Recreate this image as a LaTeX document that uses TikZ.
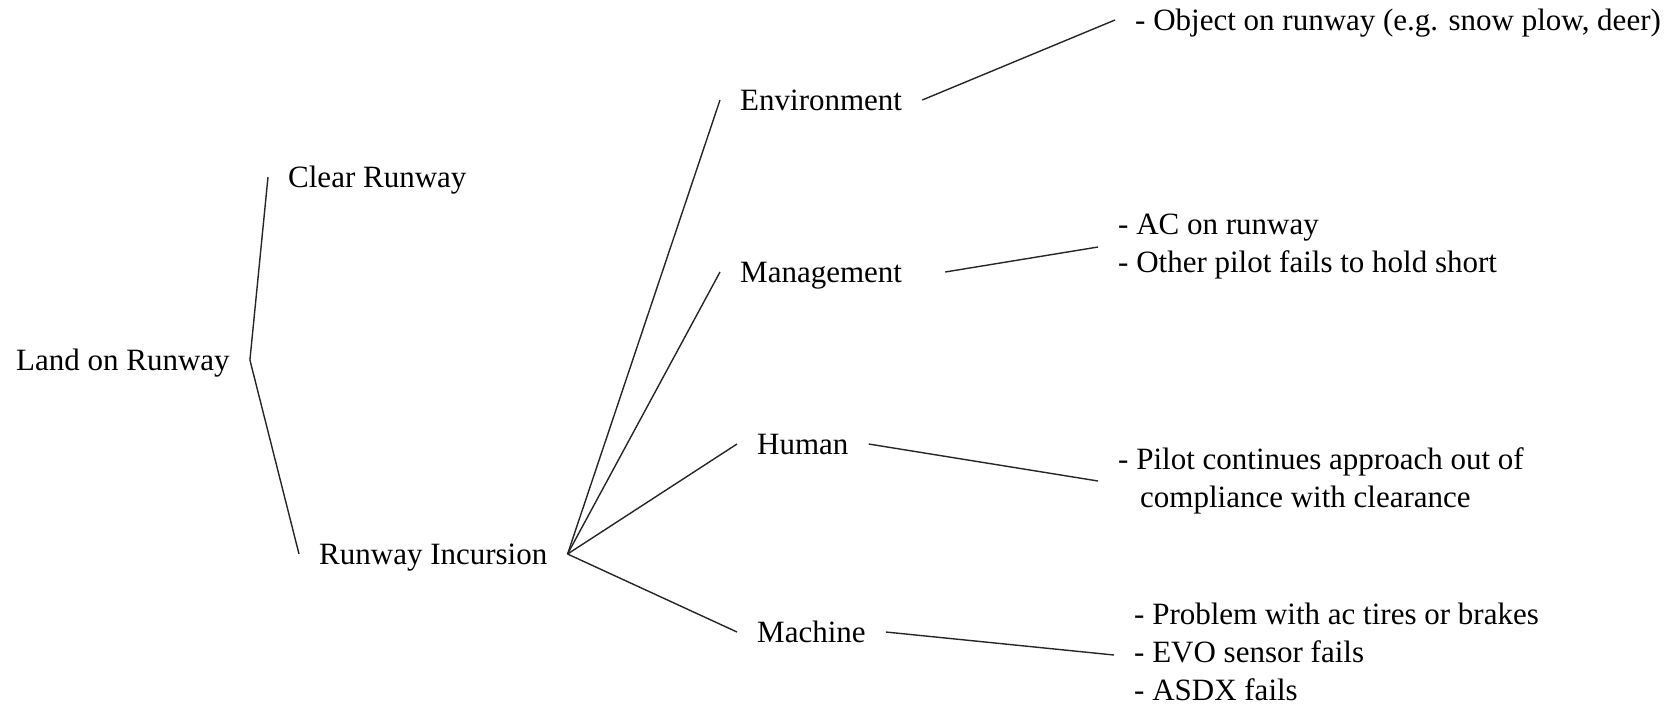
\documentclass[tikz,border=0pt]{standalone}
\usepackage{fontspec}
\setmainfont{Liberation Serif}
\newcommand{\rs}{\rule[-7pt]{0pt}{34.5pt}}
\tikzset{
    lbl/.style={anchor=west, inner xsep=20pt, inner ysep=0pt, font=\fontsize{31}{38}\selectfont,
        execute at begin node=\rs, execute at end node=\rs},
    item/.style={lbl, align=left},
    conn/.style={line width=1.4pt, black!85}
}

\begin{document}
\begin{tikzpicture}[x=1pt, y=-1pt]
    \useasboundingbox (0,0) rectangle (1677,705);
    \node[lbl] (land) at (-4,360) {Land on Runway};
    \node[lbl] (clear) at (268,177) {Clear Runway};
    \node[lbl] (incur) at (299,554) {Runway Incursion};
    \node[lbl] (env) at (720,100) {Environment};
    \node[lbl] (mgmt) at (720,272) {Management};
    \node[lbl] (human) at (737,444) {Human};
    \node[lbl] (mach) at (737,632) {Machine};
    \node[item] (envlist) at (1115,20) {- Object on runway (e.g. snow plow, deer)};
    \node[item] (mgmtlist) at (1098,247) {- AC on runway\\- Other pilot fails to hold short};
    \node[item] (humanlist) at (1098,481) {- Pilot continues approach out of\\\hspace*{22pt}compliance with clearance};
    \node[item] (machlist) at (1114,655) {- Problem with ac tires or brakes\\- EVO sensor fails\\- ASDX fails};
    \draw[conn] (clear.west) -- (land.east) -- (incur.west);
    \foreach \x in {env, mgmt, human, mach}
        \draw[conn] (incur.east) -- (\x.west);
    \draw[conn] (env.east) -- (envlist.west);
    \draw[conn] ([xshift=23pt]mgmt.east) -- (mgmtlist.west);
    \draw[conn] (human.east) -- (humanlist.west);
    \draw[conn] (mach.east) -- (machlist.west);
\end{tikzpicture}
\end{document}
